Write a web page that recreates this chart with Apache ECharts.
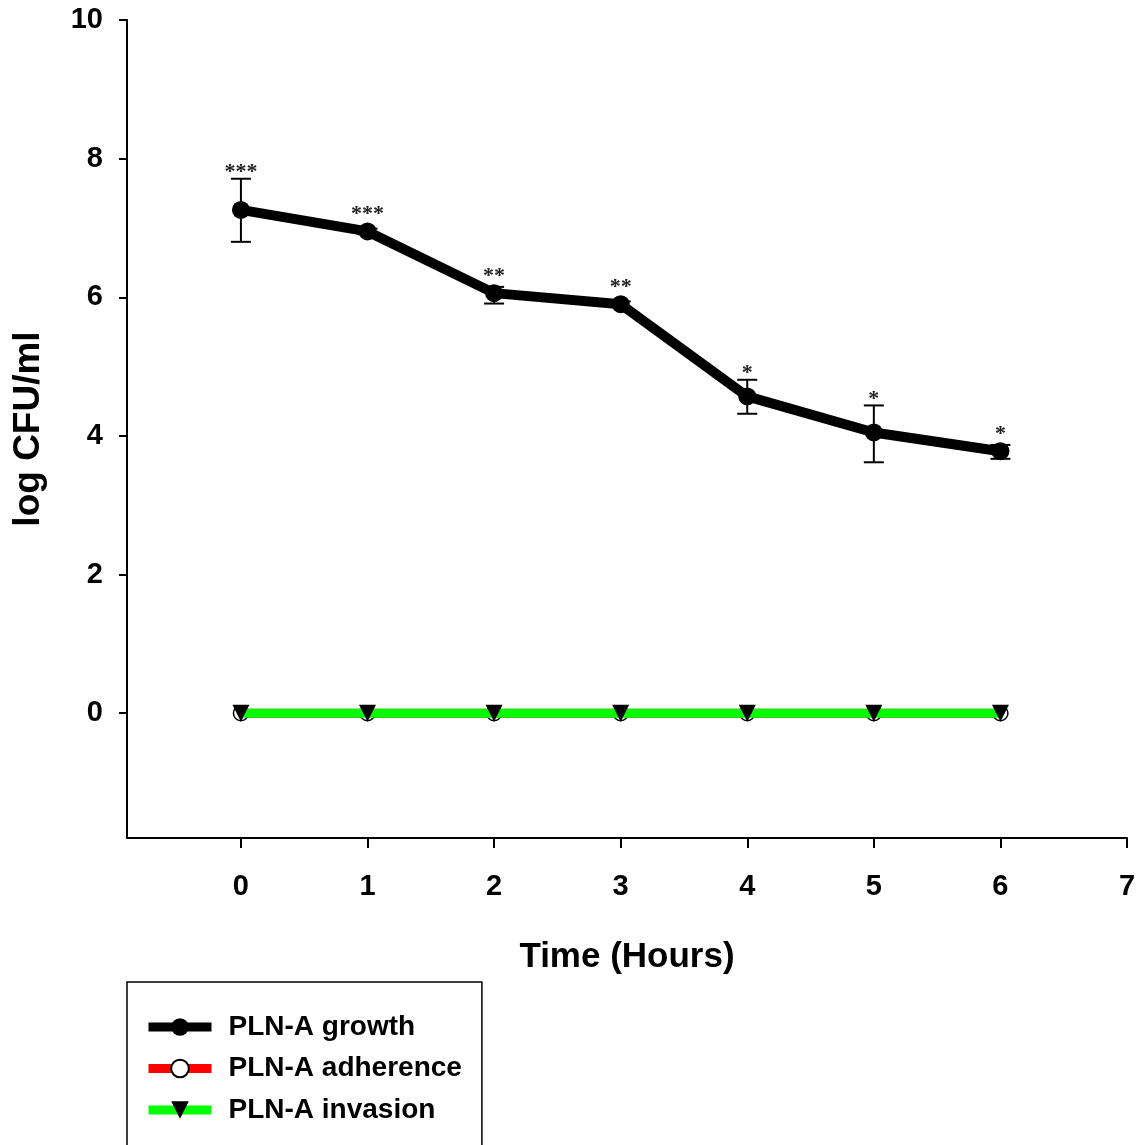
<!DOCTYPE html>
<html>
<head>
<meta charset="utf-8">
<script src="https://cdn.jsdelivr.net/npm/echarts@6/dist/echarts.min.js"></script>
<style>
  html, body { margin: 0; padding: 0; background: #fff; }
  #chart { width: 1147px; height: 1145px; }
</style>
</head>
<body>
<div id="chart"></div>
<script>
// Time points (hours)
const hours = [0, 1, 2, 3, 4, 5, 6];
// PLN-A growth, log CFU/ml, with lower/upper error limits
const growth = [7.26, 6.95, 6.06, 5.90, 4.57, 4.05, 3.78];
const growthLow = [6.80, 6.91, 5.91, 5.86, 4.32, 3.62, 3.67];
const growthHigh = [7.71, 6.99, 6.15, 5.94, 4.81, 4.44, 3.87];
// Significance marks above each growth point
const significance = ['***', '***', '**', '**', '*', '*', '*'];
// Adherence and invasion counts
const adherence = [0, 0, 0, 0, 0, 0, 0];
const invasion = [0, 0, 0, 0, 0, 0, 0];
// Axis ticks
const xTicks = [0, 1, 2, 3, 4, 5, 6, 7];
const yTicks = [0, 2, 4, 6, 8, 10];

const FONT = '"Liberation Sans", Arial, sans-serif';

const pair = (xs, ys) => xs.map((x, i) => [x, ys[i]]);
const errData = hours.map((h, i) => [h, growthLow[i], growthHigh[i], growth[i]]);

const chart = echarts.init(document.getElementById('chart'), null, { renderer: 'canvas' });

chart.setOption({
  animation: false,
  backgroundColor: '#fff',
  grid: { left: 127, right: 20, top: 20, bottom: 307, containLabel: false },
  xAxis: {
    type: 'value',
    min: -0.9,
    max: 7,
    name: 'Time (Hours)',
    nameLocation: 'middle',
    nameGap: 102,
    nameTextStyle: { fontFamily: FONT, fontWeight: 'bold', fontSize: 35, color: '#000' },
    splitLine: { show: false },
    axisLine: { onZero: false, lineStyle: { color: '#000', width: 2 } },
    axisTick: { customValues: xTicks, length: 10, lineStyle: { color: '#000', width: 2 } },
    axisLabel: {
      customValues: xTicks,
      margin: 34,
      fontFamily: FONT, fontWeight: 'bold', fontSize: 29, color: '#000'
    }
  },
  yAxis: {
    type: 'value',
    min: -1.8,
    max: 10,
    name: 'log CFU/ml',
    nameLocation: 'middle',
    nameGap: 80,
    nameTextStyle: { fontFamily: FONT, fontWeight: 'bold', fontSize: 37, color: '#000' },
    splitLine: { show: false },
    axisLine: { onZero: false, lineStyle: { color: '#000', width: 2 } },
    axisTick: { customValues: yTicks, length: 8, lineStyle: { color: '#000', width: 2 } },
    axisLabel: {
      customValues: yTicks,
      margin: 24,
      fontFamily: FONT, fontWeight: 'bold', fontSize: 29, color: '#000'
    }
  },
  legend: {
    orient: 'vertical',
    left: 127,
    top: 982,
    height: 200,
    padding: [30, 20, 60, 17],
    borderColor: '#000',
    borderWidth: 1.5,
    itemWidth: 63,
    itemHeight: 22,
    itemGap: 11.5,
    lineStyle: { width: 9 },
    textStyle: {
      fontFamily: FONT, fontWeight: 'bold', fontSize: 28, color: '#000',
      lineHeight: 30, padding: [0, 0, 0, 12]
    },
    data: ['PLN-A growth', 'PLN-A adherence', 'PLN-A invasion']
  },
  series: [
    {
      name: 'growth error',
      type: 'custom',
      z: 3,
      data: errData,
      renderItem: function (params, api) {
        const x = api.value(0);
        const pLo = api.coord([x, api.value(1)]);
        const pHi = api.coord([x, api.value(2)]);
        const pV = api.coord([x, api.value(3)]);
        const cap = 10;
        const starY = Math.min(pHi[1] - 10, pV[1] - 21) + 4;
        const stroke = { stroke: '#000', lineWidth: 2 };
        return {
          type: 'group',
          children: [
            { type: 'line', shape: { x1: pLo[0], y1: pLo[1], x2: pHi[0], y2: pHi[1] }, style: stroke },
            { type: 'line', shape: { x1: pHi[0] - cap, y1: pHi[1], x2: pHi[0] + cap, y2: pHi[1] }, style: stroke },
            { type: 'line', shape: { x1: pLo[0] - cap, y1: pLo[1], x2: pLo[0] + cap, y2: pLo[1] }, style: stroke },
            {
              type: 'text',
              x: pV[0], y: starY,
              style: {
                text: significance[params.dataIndex],
                align: 'center', verticalAlign: 'middle',
                font: 'bold 22px "Liberation Serif", serif',
                fill: '#222'
              }
            }
          ]
        };
      }
    },
    {
      name: 'PLN-A growth',
      type: 'line',
      z: 4,
      data: pair(hours, growth),
      symbol: 'circle',
      symbolSize: 18,
      itemStyle: { color: '#000' },
      lineStyle: { color: '#000', width: 10 }
    },
    {
      name: 'PLN-A adherence',
      type: 'line',
      z: 5,
      data: pair(hours, adherence),
      symbol: 'circle',
      symbolSize: 15,
      itemStyle: { color: '#fff', borderColor: '#000', borderWidth: 1.5 },
      lineStyle: { color: '#ff0000', width: 9 }
    },
    {
      name: 'PLN-A invasion',
      type: 'line',
      z: 6,
      data: pair(hours, invasion),
      symbol: 'triangle',
      symbolRotate: 180,
      symbolSize: 17,
      itemStyle: { color: '#000' },
      lineStyle: { color: '#00ff00', width: 9 }
    }
  ]
});
</script>
</body>
</html>
